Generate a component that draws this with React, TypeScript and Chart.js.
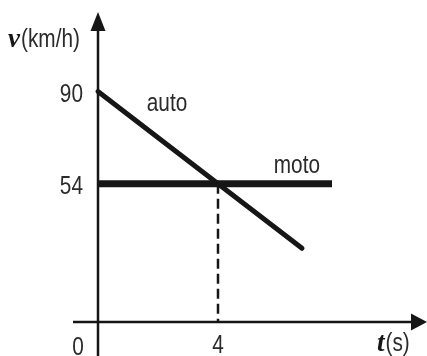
import { useEffect, useRef } from "react";
import { Chart, registerables } from "chart.js";

Chart.register(...registerables);

// Speed–time graph: t in seconds, v in km/h
const autoTimes = [0, 4, 6.8];
const autoSpeeds = [90, 54, 28.8];
const motoTimes = [0, 7.8];
const motoSpeeds = [54, 54];
const meetingTime = 4;
const meetingSpeed = 54;
const speedTicks = [90, 54];
const timeTicks = [0, 4];
const seriesNames = ["auto", "moto"];
// label anchors in data units [t, v]
const autoLabelAt = [2.3, 82.5];
const motoLabelAt = [6.63, 58.3];

const INK = "#161616";
const TEXT = "#2b2b2b";
const SANS = '"Liberation Sans", Arial, sans-serif';
const SERIF = '"Liberation Serif", "DejaVu Serif", serif';
const NARROW_X = 0.8; // horizontal squeeze for the condensed lettering

// Draws text in a condensed style: regular sans squeezed horizontally.
function narrowText(ctx: CanvasRenderingContext2D, text: string, px: number, py: number, align: "left" | "right" | "center") {
  const w = ctx.measureText(text).width * NARROW_X;
  let left = px;
  if (align === "right") left = px - w;
  else if (align === "center") left = px - w / 2;
  ctx.save();
  ctx.textAlign = "left";
  ctx.translate(left, py);
  ctx.scale(NARROW_X, 1);
  ctx.fillText(text, 0, 0);
  ctx.restore();
  return w;
}

const arrowAxes = {
  id: "arrowAxes",
  beforeDatasetsDraw(chart: any) {
    const { ctx } = chart;
    const x = chart.scales.x;
    const y = chart.scales.y;
    const ox = x.getPixelForValue(0);
    const oy = y.getPixelForValue(0);
    ctx.save();
    ctx.strokeStyle = INK;
    ctx.fillStyle = INK;
    ctx.lineWidth = 2.5;
    // vertical axis
    const tipY = chart.chartArea.top + 12;
    ctx.beginPath();
    ctx.moveTo(ox, chart.chartArea.bottom);
    ctx.lineTo(ox, tipY + 10);
    ctx.stroke();
    ctx.beginPath();
    ctx.moveTo(ox, tipY);
    ctx.lineTo(ox + 7.5, tipY + 19);
    ctx.lineTo(ox - 7.5, tipY + 19);
    ctx.closePath();
    ctx.fill();
    // horizontal axis
    const tipX = chart.chartArea.right;
    ctx.beginPath();
    ctx.moveTo(ox - 25, oy);
    ctx.lineTo(tipX - 10, oy);
    ctx.stroke();
    ctx.beginPath();
    ctx.moveTo(tipX, oy);
    ctx.lineTo(tipX - 16, oy - 8.5);
    ctx.lineTo(tipX - 16, oy + 8.5);
    ctx.closePath();
    ctx.fill();
    ctx.restore();
  },
  afterDatasetsDraw(chart: any) {
    const { ctx } = chart;
    const x = chart.scales.x;
    const y = chart.scales.y;
    const ox = x.getPixelForValue(0);
    const oy = y.getPixelForValue(0);
    ctx.save();
    ctx.fillStyle = TEXT;
    ctx.font = `26px ${SANS}`;
    ctx.textBaseline = "alphabetic";
    // speed ticks
    speedTicks.forEach((v) => {
      narrowText(ctx, String(v), ox - 15, y.getPixelForValue(v) + 10, "right");
    });
    // time ticks
    timeTicks.forEach((t) => {
      if (t === 0) {
        narrowText(ctx, "0", ox - 20, oy + 33, "center");
      } else {
        narrowText(ctx, String(t), x.getPixelForValue(t), oy + 31, "center");
      }
    });
    // series labels
    narrowText(ctx, seriesNames[0], x.getPixelForValue(autoLabelAt[0]), y.getPixelForValue(autoLabelAt[1]), "center");
    narrowText(ctx, seriesNames[1], x.getPixelForValue(motoLabelAt[0]), y.getPixelForValue(motoLabelAt[1]), "center");

    // axis titles: bold italic symbol + unit
    ctx.textAlign = "left";
    ctx.font = `italic bold 27px ${SERIF}`;
    ctx.fillStyle = INK;
    ctx.fillText("v", 8, 47);
    const vw = ctx.measureText("v").width;
    ctx.font = `26px ${SANS}`;
    ctx.fillStyle = TEXT;
    narrowText(ctx, "(km/h)", 8 + vw + 1, 47, "left");

    ctx.font = `italic bold 27px ${SERIF}`;
    ctx.fillStyle = INK;
    ctx.fillText("t", 377, oy + 29);
    const tw = ctx.measureText("t").width;
    ctx.font = `26px ${SANS}`;
    ctx.fillStyle = TEXT;
    narrowText(ctx, "(s)", 377 + tw + 1, oy + 29, "left");
    ctx.restore();
  },
};

export default function App() {
  const canvasRef = useRef<HTMLCanvasElement | null>(null);

  useEffect(() => {
    document.body.style.margin = "0";
    const canvas = canvasRef.current;
    if (!canvas) return;
    const toPoints = (ts: number[], vs: number[]) => ts.map((t, i) => ({ x: t, y: vs[i] }));
    const chart = new Chart(canvas, {
      type: "line",
      data: {
        datasets: [
          {
            label: "encontro",
            data: [
              { x: meetingTime, y: meetingSpeed },
              { x: meetingTime, y: 0 },
            ],
            borderColor: INK,
            borderWidth: 2.5,
            borderDash: [10, 5],
            pointRadius: 0,
          },
          {
            label: seriesNames[1],
            data: toPoints(motoTimes, motoSpeeds),
            borderColor: INK,
            borderWidth: 7,
            borderCapStyle: "butt",
            pointRadius: 0,
          },
          {
            label: seriesNames[0],
            data: toPoints(autoTimes, autoSpeeds),
            borderColor: INK,
            borderWidth: 5,
            borderCapStyle: "round",
            pointRadius: 0,
          },
        ],
      },
      options: {
        responsive: false,
        animation: false,
        parsing: true,
        layout: { padding: 0 },
        plugins: { legend: { display: false }, tooltip: { enabled: false } },
        scales: {
          x: { type: "linear", display: false, min: -3.2667, max: 10.9667 },
          y: { type: "linear", display: false, min: -13.28, max: 125.78 },
        },
      },
      plugins: [arrowAxes],
    });
    return () => chart.destroy();
  }, []);

  return (
    <div style={{ position: "fixed", left: 0, top: 0, width: 427, height: 356, background: "#fff" }}>
      <canvas ref={canvasRef} width={427} height={356} />
    </div>
  );
}
